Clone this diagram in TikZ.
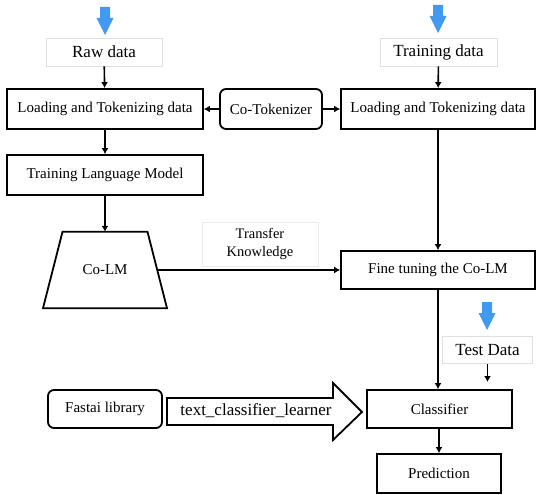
\documentclass[tikz,border=0pt]{standalone}
\usepackage{fontspec}
\setmainfont{Liberation Serif}
\usetikzlibrary{arrows.meta,calc}
\definecolor{inblue}{RGB}{66,153,240}
\tikzset{
  blk/.style={rectangle, draw=black, line width=1.8pt, inner sep=0pt, align=center,
              font=\fontsize{15}{17}\selectfont},
  rblk/.style={blk, rounded corners=6pt},
  inp/.style={rectangle, draw=black!12, line width=0.6pt, inner sep=0pt, align=center,
              font=\fontsize{17}{19}\selectfont},
  ar/.style={-{Latex[length=6pt,width=7pt]}, line width=1.6pt},
}
% blue "data in" arrow: #1 = centre x, #2 = top y
\newcommand{\datain}[2]{\fill[inblue] (#1,#2) ++(-5,0) -- ++(10,0) -- ++(0,11) -- ++(3.5,0)
  -- ++(-8.5,17) -- ++(-8.5,-17) -- ++(3.5,0) -- cycle;}

\begin{document}
\begin{tikzpicture}[x=1pt,y=-1pt]
\useasboundingbox (0,0) rectangle (536,495);

% ================= inputs =================
\datain{105}{7}
\datain{438}{5}
\node[inp, minimum width=116, minimum height=28] (raw) at (104,52) {Raw data};
\node[inp, minimum width=117, minimum height=28] (train) at (438.5,52) {Training data};

% ================= tokenizing =================
\node[blk, minimum width=196, minimum height=40] (loadL) at (105,109) {Loading and Tokenizing data};
\node[rblk, minimum width=102, minimum height=40] (cotok) at (271,109) {Co-Tokenizer};
\node[blk, minimum width=194, minimum height=40] (loadR) at (438,109) {Loading and Tokenizing data};

% ================= language model =================
\node[blk, minimum width=196, minimum height=40] (tlm) at (105,175) {Training Language Model};
% Co-LM: box is the trapezoid's mid-height width, outline drawn around it
\node[rectangle, inner sep=0pt, minimum width=104.5, minimum height=76,
      font=\fontsize{15}{17}\selectfont] (colm) at (105,270) {Co-LM};
\draw[line width=1.8pt, line join=miter]
  ($(colm.north)+(-42.5,0)$) -- ($(colm.north)+(42.5,0)$)
  -- ($(colm.south)+(62,0)$) -- ($(colm.south)+(-62,0)$) -- cycle;
\node[rectangle, draw=black!8, line width=0.6pt, minimum width=116, minimum height=44,
      align=center, font=\fontsize{14.5}{17.5}\selectfont] (tk) at (260,244) {Transfer\\Knowledge};
\node[blk, minimum width=194, minimum height=38] (fine) at (438,270) {Fine tuning the Co-LM};

% ================= classification =================
\datain{487}{302}
\node[inp, minimum width=90, minimum height=27] (test) at (487.5,350) {Test Data};
\coordinate (tdin) at (487.5,382);
\node[blk, minimum width=145, minimum height=38] (cls) at (439.5,409) {Classifier};
\node[blk, minimum width=124, minimum height=39] (pred) at (439,473.5) {Prediction};
\node[rblk, minimum width=114, minimum height=38] (fastai) at (105,409) {Fastai library};

% hollow block arrow
\draw[line width=1.8pt, fill=white, line join=miter] (167,398) -- (333,398) -- (333,383)
  -- (362,412) -- (333,440) -- (333,425) -- (167,425) -- cycle;
\node[font=\fontsize{17}{19}\selectfont] (tcl) at (256,411) {text\_classifier\_learner};

% ================= connectors =================
\draw[ar] (raw) -- (loadL);
\draw[ar] (train) -- (loadR);
\draw[ar] (cotok) -- (loadL);
\draw[ar] (cotok) -- (loadR);
\draw[ar] (loadL) -- (tlm);
\draw[ar] (tlm) -- (colm);
\draw[ar] (colm.east) -- (fine.west);
\draw[ar] (loadR) -- (fine);
\draw[ar] (fine.south) -- (fine.south |- cls.north);
\draw[ar] (test.south) -- (tdin);
\draw[ar] (cls.south -| pred.north) -- (pred.north);

\end{tikzpicture}
\end{document}
